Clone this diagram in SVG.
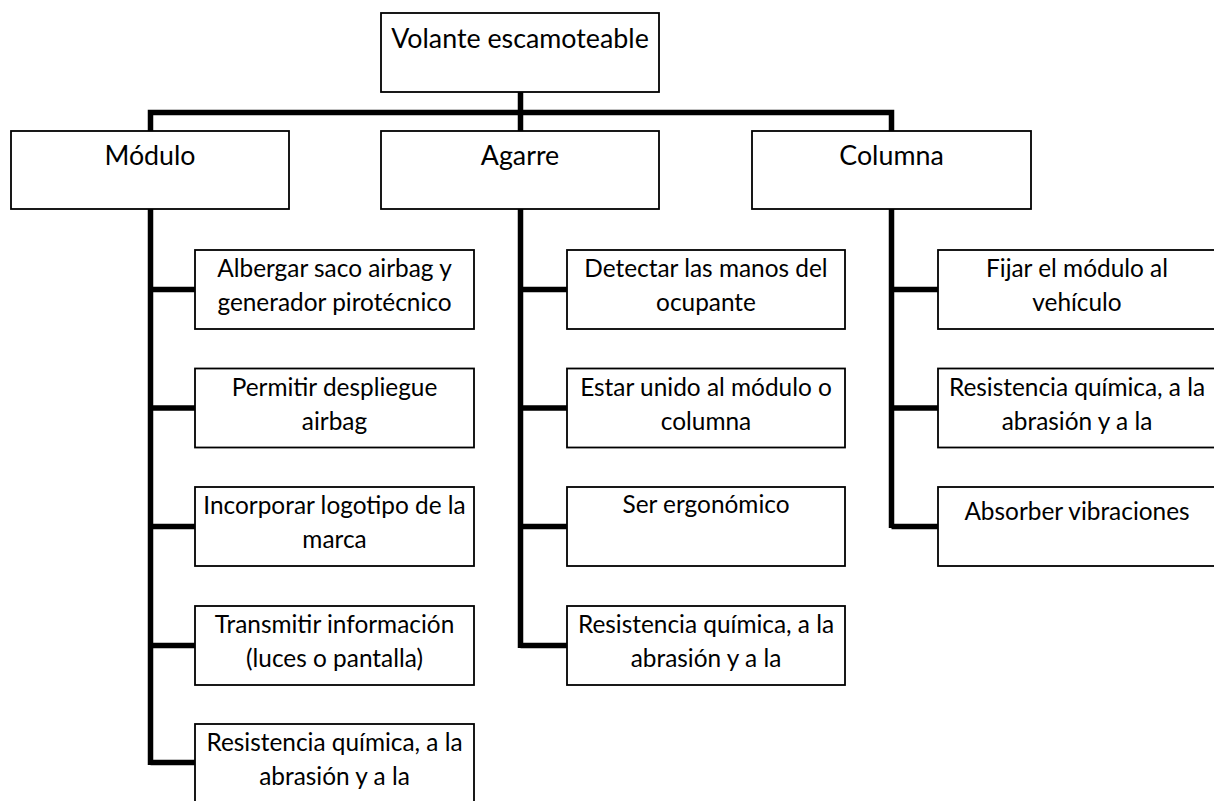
<svg xmlns="http://www.w3.org/2000/svg" width="1214" height="801" viewBox="0 0 1214 801">
<style>
.box{fill:#fff;stroke:#000;stroke-width:1.8}
.t{font-family:Lato,"Open Sans","Liberation Sans",sans-serif;font-size:24.4px;fill:#000;text-anchor:middle}
.h{font-size:26.8px}
.c{fill:none;stroke:#000;stroke-width:5.5;stroke-linejoin:miter;stroke-linecap:butt}
</style>
<rect width="1214" height="801" fill="#fff"/>
<g id="connectors">
<path class="c" d="M520.5 92 V112.5 M150.5 131 V112.5 H891.5 V131 M520.5 112.5 V131"/>
<path class="c" d="M150.5 209 V765 M150.5 289.5 H195 M150.5 408 H195 M150.5 526.5 H195 M150.5 645.5 H195 M150.5 762.5 H195"/>
<path class="c" d="M520.5 209 V648 M520.5 289.5 H567 M520.5 408 H567 M520.5 526.5 H567 M520.5 645.5 H567"/>
<path class="c" d="M891.5 209 V528 M891.5 289.5 H938 M891.5 408 H938 M891.5 526.5 H938"/>
</g>
<g id="n-root"><rect class="box" x="381" y="13" width="278" height="79"/><text class="t h" x="520" y="48">Volante escamoteable</text></g>
<g id="n-modulo"><rect class="box" x="11" y="131" width="278" height="78"/><text class="t h" x="150" y="165">Módulo</text></g>
<g id="n-agarre"><rect class="box" x="381" y="131" width="278" height="78"/><text class="t h" x="520" y="165">Agarre</text></g>
<g id="n-columna"><rect class="box" x="752" y="131" width="279" height="78"/><text class="t h" x="891.5" y="165">Columna</text></g>

<g id="n-m1"><rect class="box" x="195" y="250" width="279" height="79"/><text class="t" x="334.5" y="277">Albergar saco airbag y</text><text class="t" x="334.5" y="311">generador pirotécnico</text></g>
<g id="n-m2"><rect class="box" x="195" y="368.5" width="279" height="79"/><text class="t" x="334.5" y="395.5">Permitir despliegue</text><text class="t" x="334.5" y="429.5">airbag</text></g>
<g id="n-m3"><rect class="box" x="195" y="487" width="279" height="79"/><text class="t" x="334.5" y="514">Incorporar logotipo de la</text><text class="t" x="334.5" y="548">marca</text></g>
<g id="n-m4"><rect class="box" x="195" y="606" width="279" height="79"/><text class="t" x="334.5" y="633">Transmitir información</text><text class="t" x="334.5" y="667">(luces o pantalla)</text></g>
<g id="n-m5"><rect class="box" x="195" y="724" width="279" height="90"/><text class="t" x="334.5" y="751">Resistencia química, a la</text><text class="t" x="334.5" y="785">abrasión y a la</text></g>

<g id="n-a1"><rect class="box" x="567" y="250" width="278" height="79"/><text class="t" x="706" y="277">Detectar las manos del</text><text class="t" x="706" y="311">ocupante</text></g>
<g id="n-a2"><rect class="box" x="567" y="368.5" width="278" height="79"/><text class="t" x="706" y="395.5">Estar unido al módulo o</text><text class="t" x="706" y="429.5">columna</text></g>
<g id="n-a3"><rect class="box" x="567" y="487" width="278" height="79"/><text class="t" x="706" y="513">Ser ergonómico</text></g>
<g id="n-a4"><rect class="box" x="567" y="606" width="278" height="79"/><text class="t" x="706" y="633">Resistencia química, a la</text><text class="t" x="706" y="667">abrasión y a la</text></g>

<g id="n-c1"><rect class="box" x="938" y="250" width="279" height="79"/><text class="t" x="1077" y="277">Fijar el módulo al</text><text class="t" x="1077" y="311">vehículo</text></g>
<g id="n-c2"><rect class="box" x="938" y="368.5" width="279" height="79"/><text class="t" x="1077" y="395.5">Resistencia química, a la</text><text class="t" x="1077" y="429.5">abrasión y a la</text></g>
<g id="n-c3"><rect class="box" x="938" y="487" width="279" height="79"/><text class="t" x="1077" y="520">Absorber vibraciones</text></g>
</svg>
